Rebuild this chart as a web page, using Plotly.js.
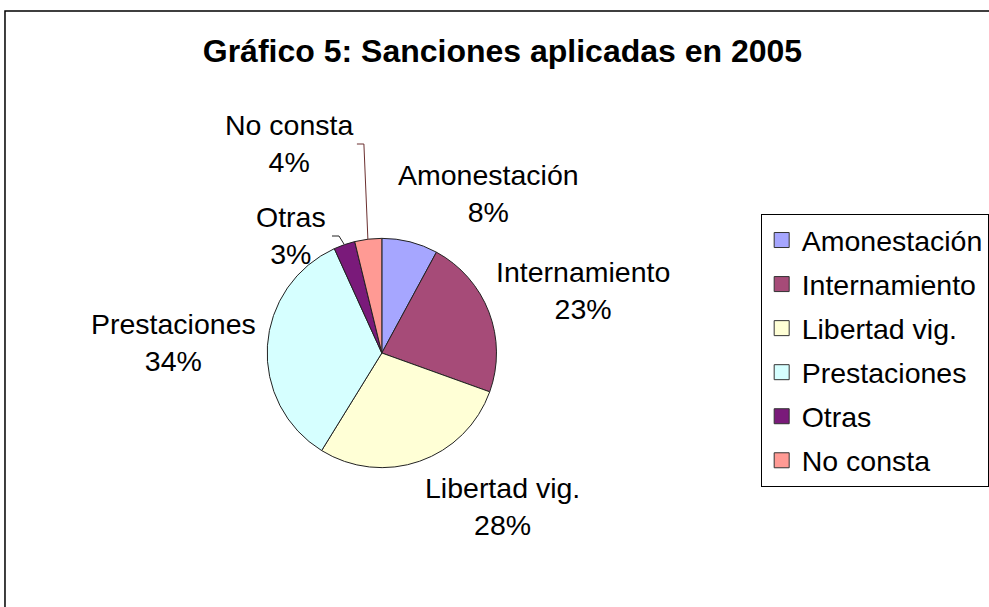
<!DOCTYPE html>
<html>
<head>
<meta charset="utf-8">
<script src="https://cdn.plot.ly/plotly-3.0.1.min.js"></script>
<style>html,body{margin:0;padding:0;background:#fff;}#chart{width:989px;height:607px;}</style>
</head>
<body>
<div id="chart"></div>
<script>
// ---- data ----
var categories = ["Amonestación", "Internamiento", "Libertad vig.", "Prestaciones", "Otras", "No consta"];
var values = [7.9, 22.6, 28.3, 34.4, 3.0, 3.8];
var colors = ["#A6A6FF", "#A64B78", "#FFFFD6", "#D6FFFF", "#7A1A7A", "#FF9A94"];
var titleText = "Gráfico 5: Sanciones aplicadas en 2005";

// ---- layout helpers (pixel -> paper) ----
var W = 989, H = 607;
function px(x) { return x / W; }
function py(y) { return 1 - y / H; }

var total = values.reduce(function (a, b) { return a + b; }, 0);
var pctText = values.map(function (v) { return Math.round(v / total * 100) + "%"; });

// label block centres (pixels)
var labelPos = [[490, 194], [585, 290], [504, 506], [174, 342], [292, 235], [290, 144]];

var FONT = "Liberation Sans, Arial, sans-serif";
var FS = 28.5;

var traces = [{
  type: "pie",
  labels: categories,
  values: values,
  sort: false,
  direction: "clockwise",
  rotation: 0,
  marker: { colors: colors, line: { color: "#222", width: 1 } },
  textinfo: "none",
  hoverinfo: "label+percent",
  showlegend: false,
  domain: { x: [px(268), px(498)], y: [py(468), py(238)] }
}];

// legend entries
categories.forEach(function (c, i) {
  traces.push({
    type: "scatter", mode: "markers", x: [null], y: [null],
    name: c, legendgroup: "g" + i, showlegend: true,
    marker: { symbol: "square", size: 15, color: colors[i], line: { color: "#333", width: 1 } },
    hoverinfo: "skip"
  });
});

var annotations = categories.map(function (c, i) {
  return {
    xref: "paper", yref: "paper",
    x: px(labelPos[i][0]), y: py(labelPos[i][1]),
    xanchor: "center", yanchor: "middle",
    text: c + "<br>" + pctText[i],
    showarrow: false,
    align: "center",
    font: { family: FONT, size: FS, color: "#000" }
  };
});

var shapes = [
  { type: "rect", xref: "paper", yref: "paper", x0: px(5), y0: py(11), x1: px(1100), y1: py(700),
    line: { color: "#000", width: 1.5 }, fillcolor: "rgba(0,0,0,0)", layer: "below" },
  { type: "path", xref: "paper", yref: "paper",
    path: "M " + px(358) + " " + py(144) + " L " + px(365) + " " + py(144) + " L " + px(369) + " " + py(239),
    line: { color: "#6b2f2f", width: 1 } },
  { type: "path", xref: "paper", yref: "paper",
    path: "M " + px(333) + " " + py(236) + " L " + px(340) + " " + py(236) + " L " + px(345) + " " + py(244),
    line: { color: "#222", width: 1 } }
];

var layout = {
  width: W, height: H,
  margin: { l: 0, r: 0, t: 0, b: 0 },
  paper_bgcolor: "#fff", plot_bgcolor: "#fff",
  title: { text: "<b>" + titleText + "</b>", x: px(504), xanchor: "center", xref: "paper",
           y: py(51), yref: "container", yanchor: "middle",
           font: { family: FONT, size: 32, color: "#000" } },
  xaxis: { visible: false }, yaxis: { visible: false },
  showlegend: true,
  legend: {
    x: px(763), xanchor: "left", y: py(214), yanchor: "top",
    bordercolor: "#000", borderwidth: 1, bgcolor: "#fff",
    traceorder: "grouped", tracegroupgap: 4,
    font: { family: FONT, size: FS, color: "#000" }
  },
  annotations: annotations,
  shapes: shapes
};

Plotly.newPlot("chart", traces, layout, { displayModeBar: false, staticPlot: true });
</script>
</body>
</html>
